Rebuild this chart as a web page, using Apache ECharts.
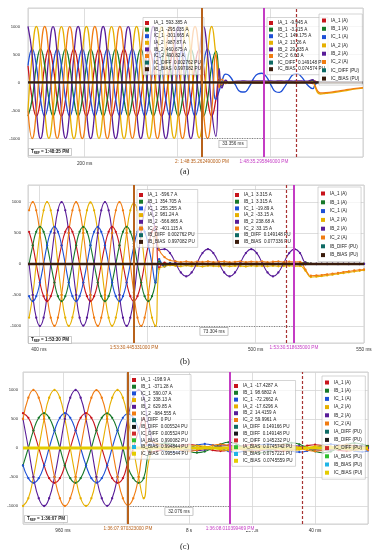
<!DOCTYPE html>
<html><head><meta charset="utf-8">
<script src="https://cdn.jsdelivr.net/npm/echarts@6/dist/echarts.min.js"></script>
<style>html,body{margin:0;padding:0;background:#fff}#c{width:373px;height:550px}</style>
</head><body><div id="c"></div><script>
// ---------------- DATA ----------------
// Panel (a): time (ms) and currents (A)
const tA = [139,143.5,148,152.5,157,161.5,166,170.5,175,179.5,184,188.5,193,197.5,202,206.5,211,215.5,220,224.5,229,233.5,238,242.5,247,251.5,256,260.5,265,269.5,274,278.5,283,287.5,292,296.5,301,305.5,310,314.5,319,323.5,328,332.5,337,341.5,
 345,348,352,356,362,368,372,378,382,387,391,396,401,406,410,415,420,425,429,434,440,446,448,451,454,460,470,480,490,500];
const IA1_a = [300,-300,-600,-300,300,598, 302,-298,-600,-300,300,600, 300,-300,-597,-302,300,600, 298,-300,-600,-300,302,600, 300,-302,-600,-298,300,597, 300,-300,-600,-300,298,600, 302,-300,-600,-300,300,593, 300,-300,-600,-300,
 60,-30,15,-10,-5,-8,-6,-10,-9,-10,-10,-8,-6,-8,-10,-7,-6,-8,-9,-6,-5,-20,30,5,0,-3,-2,-2,-3,-2];
const IB1_a = [-600,-300,300,600,300,-300, -598,-300,302,600,300,-300, -600,-302,300,597,300,-300, -600,-300,300,600,298,-302, -600,-300,300,600,300,-300, -597,-300,300,600,302,-300, -600,-300,300,600,300,-295, -600,-300,300,560,
 140,-60,25,-10,-3,-4,-2,-3,-4,-3,-3,-2,-4,-3,-3,-2,-3,-3,-2,-3,-3,40,-20,5,0,-2,-1,-2,-1,-2];
const IC1_a = [300,600,300,-300,-600,-300, 302,598,300,-300,-600,-298, 300,600,297,-300,-600,-300, 300,600,300,-302,-597,-300, 298,600,300,-300,-600,-300, 300,597,302,-300,-600,-300, 300,600,300,-300,-600,-302, 300,600,300,-300,
 -150,20,150,120,-30,-165,-170,-60,70,155,165,100,-50,-165,-175,-90,40,145,160,95,-40,-110,-50,-5,5,0,2,0,1,0];
const IA2_a = [-500,500,1000,500,-500,-995, -505,495,998,505,-500,-1000, -498,502,1000,500,-503,-998, -500,500,997,502,-500,-1000, -502,498,1000,500,-497,-1000, -500,503,998,500,-500,-996, -503,500,1000,497,-500,-988, -500,500,1000,500,
 120,-40,25,-15,10,-5,8,0,10,12,13,8,5,10,5,8,4,6,5,3,5,0,-60,-180,-205,-195,-175,-150,-120,-100];
const IB2_a = [1000,500,-500,-1000,-500,500, 998,502,-500,-997,-500,500, 1000,500,-503,-1000,-498,500, 1000,497,-500,-1000,-500,502, 996,500,-500,-1000,-502,500, 1000,500,-498,-1000,-500,497, 1000,500,-500,-1000,-500,461, 1000,500,-500,-960,
 250,-100,40,-10,20,25,30,22,28,30,30,25,28,24,30,26,28,25,29,27,25,50,10,5,2,3,2,2,1,2];
const IC2_a = [-500,-1000,-500,500,1000,500, -502,-998,-500,500,997,500, -500,-1000,-497,502,1000,500, -500,-1000,-500,500,1000,498, -503,-997,-500,500,1000,500, -500,-1000,-500,498,1000,502, -500,-1000,-500,500,1000,491, -500,-1000,-500,500,
 -90,60,-20,10,5,8,5,7,6,7,7,5,6,4,6,5,6,4,6,5,5,10,-40,-150,-185,-180,-160,-135,-110,-90];
const tPU_a = [139,341.5,345,500];
const ICDIFF_a = [0.002762,0.002762,0.149148,0.149148];
const ICBIAS_a = [0.997082,0.997082,0.074574,0.074574];

// Panel (b)
const tB = [395.5,397.2,398.8,400.5,402.2,403.8,405.5,407.2,408.8,410.5,412.2,413.8,415.5,417.2,418.8,420.5,422.2,423.8,425.5,427.2,428.8,430.5,432.2,433.8,435.5,437.2,438.8,440.5,442.2,443.8,445.5,447.2,448.8,450.5,452.2,453.8,
 455.5,458,460.5,463,465.5,468,470.5,473,475.5,478,480.5,483,485.5,488,490.5,493,495.5,498,500.5,503,505.5,508,510.5,513,515.5,518,520.5,523,525.5,528,530.5,533,535.5,538,540.5,543,545.5,548,550];
const IA1_b = [520,300,0,-300,-520,-600,-520,-300,0,300,520,600, 520,300,0,-300,-520,-598,-520,-300,0,300,520,600, 520,300,0,-300,-520,-597,-520,-300,0,300,520,600,
 -60,20,-10,5,-3,2,-4,3,-2,4,-3,2,-5,3,-2,4,-3,2,-4,3,-2,4,-3,3,-2,3,10,20,5,2,3,2,3,2,3,2,3,2,3];
const IB1_b = [0,300,520,600,520,300,0,-300,-520,-600,-520,-300, 0,300,520,597,520,300,0,-300,-520,-600,-520,-300, 0,300,520,600,520,330,0,-300,-520,-600,-520,-300,
 40,-30,10,-5,3,-2,4,-3,2,-4,3,-2,4,-3,2,-4,3,-2,4,-3,2,-4,3,-2,3,-2,8,25,5,2,1,2,1,2,1,2,1,2,1];
const IC1_b = [-520,-600,-520,-300,0,300,520,600,520,300,0,-300, -520,-600,-520,-300,0,300,520,598,520,300,0,-300, -520,-600,-520,-300,0,280,520,600,520,300,0,-300,
 80,-40,15,-5,3,-3,2,-4,3,-2,4,-3,2,-4,3,-2,4,-3,2,-4,3,-2,4,-3,2,-2,-15,-5,2,0,1,0,1,0,1,0,1,0,1];
const IA2_b = [-866,-500,0,500,866,1000,866,500,0,-500,-866,-1000, -862,-500,3,500,866,995,866,497,0,-500,-866,-998, -866,-502,0,500,866,981,866,500,0,-500,-866,-1000,
 -80,-40,-20,-30,-38,-25,-35,-30,-40,-28,-33,-36,-27,-38,-31,-34,-40,-29,-35,-32,-37,-30,-36,-33,-28,-35,-33,-110,-210,-205,-195,-185,-172,-160,-148,-135,-122,-110,-100];
const IB2_b = [0,-500,-866,-1000,-866,-500,0,500,866,1000,866,500, 0,-500,-866,-996,-866,-500,0,500,866,1000,866,500, 0,-500,-866,-1000,-866,-540,0,500,866,1000,866,500,
 230,240,176,20,-136,-200,-136,20,176,240,176,20,-136,-200,-136,20,176,240,176,20,-136,-200,-136,20,176,240,176,20,2,0,3,0,2,0,1,0,2,0,1];
const IC2_b = [866,1000,866,500,0,-500,-866,-1000,-866,-500,0,500, 866,998,866,500,0,-500,-866,-1000,-866,-500,0,500, 866,1000,866,500,0,-460,-866,-1000,-866,-500,0,500,
 230,110,60,45,30,40,28,38,32,42,30,36,40,28,35,42,30,38,33,40,29,36,41,30,37,33,35,-90,-190,-185,-178,-168,-155,-145,-130,-118,-105,-95,-88];
const tPU_b = [395,453.8,455.5,550];
const IBDIFF_b = [0.002762,0.002762,0.149148,0.149148];
const IBBIAS_b = [0.997082,0.997082,0.077336,0.077336];

// Panel (c)
const tC = [947.3,949.0,950.6,952.3,954.0,955.6,957.3,959.0,960.6,962.3,964.0,965.6,967.3,969.0,970.6,972.3,974.0,975.6,977.3,979.0,980.6,982.3,984.0,985.6,
 987.5,990,992.5,995,997.5,1000,1002.5,1005,1007.5,1010,1012.5,1015,1017.5,1020,1022.5,1025,1027.5,1030,1032.5,1035,1037.5,1040,1042.5,1045,1047.5,1050,1052.5,1055,1056.8];
const IA1_c = [600,520,300,0,-300,-520,-600,-520,-300,0,300,520, 600,520,300,0,-300,-520,-600,-520,-250,0,300,520,
 -80,-50,-35,2,40,58,42,0,-38,-52,-36,3,42,60,40,0,-40,-55,-38,2,40,56,38,-2,-38,-52,-35,0,35];
const IB1_c = [-300,0,300,520,600,520,300,0,-300,-520,-600,-520, -300,0,300,520,597,520,300,0,-330,-520,-600,-520,
 -40,50,85,60,5,-55,-80,-60,0,65,98,70,2,-60,-85,-62,0,60,90,64,3,-58,-82,-60,2,58,85,62,30];
const IC1_c = [-300,-520,-600,-520,-300,0,300,520,600,520,300,0, -300,-520,-598,-520,-300,0,300,520,590,520,300,0,
 60,5,-50,-72,-55,-3,48,70,50,2,-55,-74,-52,0,50,68,48,-2,-52,-70,-50,1,45,65,46,0,-50,-66,-45];
const IA2_c = [-1000,-866,-500,0,500,866,1000,866,500,0,-500,-866, -998,-866,-500,0,500,866,1000,866,500,0,-500,-866,
 -150,40,-35,-25,2,30,42,28,0,-30,-40,-26,2,28,38,26,-2,-28,-40,-28,0,30,40,26,0,-28,-38,-25,0];
const IB2_c = [500,0,-500,-866,-1000,-866,-500,0,500,866,1000,866, 500,0,-500,-866,-997,-866,-500,0,520,866,1000,866,
 300,30,42,30,0,-30,-44,-30,2,32,44,30,-2,-30,-42,-28,0,30,42,30,0,-28,-40,-28,0,28,40,28,0];
const IC2_c = [500,866,1000,866,500,0,-500,-866,-1000,-866,-500,0, 500,866,998,866,500,0,-500,-866,-985,-866,-500,0,
 120,70,45,5,-40,-55,-38,3,44,62,45,2,-40,-58,-40,0,40,58,42,3,-38,-55,-40,2,40,56,40,0,-35];
const tPU_c = [947.3,985.6,987.5,1056.8];
const IADIFF_c = [0,0,0.149166,0.149166];
const IBDIFF_c = [0.005524,0.005524,0.149148,0.149148];
const ICDIFF_c = [0.005524,0.005524,0.145232,0.145232];
const IABIAS_c = [0.990082,0.990082,0.0745742,0.0745742];
const IBBIAS_c = [0.994844,0.994844,0.0757221,0.0757221];
const ICBIAS_c = [0.995544,0.995544,0.0745559,0.0745559];

// Channel names
const namesA = ['IA_1 (A)','IB_1 (A)','IC_1 (A)','IA_2 (A)','IB_2 (A)','IC_2 (A)','IC_DIFF (PU)','IC_BIAS (PU)'];
const namesB = ['IA_1 (A)','IB_1 (A)','IC_1 (A)','IA_2 (A)','IB_2 (A)','IC_2 (A)','IB_DIFF (PU)','IB_BIAS (PU)'];
const namesC = ['IA_1 (A)','IB_1 (A)','IC_1 (A)','IA_2 (A)','IB_2 (A)','IC_2 (A)','IA_DIFF (PU)','IB_DIFF (PU)','IC_DIFF (PU)','IA_BIAS (PU)','IB_BIAS (PU)','IC_BIAS (PU)'];

// Cursor readouts
const readA1 = ['IA_1  593.385 A','IB_1  -295.035 A','IC_1  -301.665 A','IA_2  -987.87 A','IB_2  460.675 A','IC_2  490.82 A','IC_DIFF  0.002762 PU','IC_BIAS  0.997082 PU'];
const readA2 = ['IA_1  -9.945 A','IB_1  -3.315 A','IC_1  149.175 A','IA_2  13.26 A','IB_2  29.835 A','IC_2  6.63 A','IC_DIFF  0.149148 PU','IC_BIAS  0.074574 PU'];
const readB1 = ['IA_1  -596.7 A','IB_1  354.705 A','IC_1  255.255 A','IA_2  981.24 A','IB_2  -566.865 A','IC_2  -401.115 A','IB_DIFF  0.002762 PU','IB_BIAS  0.997082 PU'];
const readB2 = ['IA_1  3.315 A','IB_1  3.315 A','IC_1  -19.89 A','IA_2  -33.15 A','IB_2  238.68 A','IC_2  33.15 A','IB_DIFF  0.149148 PU','IB_BIAS  0.077336 PU'];
const readC1 = ['IA_1  -198.9 A','IB_1  -371.28 A','IC_1  590.07 A','IA_2  338.13 A','IB_2  629.85 A','IC_2  -984.555 A','IA_DIFF  0 PU','IB_DIFF  0.005524 PU','IC_DIFF  0.005524 PU','IA_BIAS  0.990082 PU','IB_BIAS  0.994844 PU','IC_BIAS  0.995544 PU'];
const readC2 = ['IA_1  -17.4287 A','IB_1  98.6802 A','IC_1  -72.2662 A','IA_2  -17.6296 A','IB_2  14.4159 A','IC_2  59.9961 A','IA_DIFF  0.149166 PU','IB_DIFF  0.149148 PU','IC_DIFF  0.145232 PU','IA_BIAS  0.0745742 PU','IB_BIAS  0.0757221 PU','IC_BIAS  0.0745559 PU'];

// Cursors (ms) and their labels
const cursA = {brown:326.5, magenta:393.3, dashed:427.8, bl:'2: 1:48:35.262490000 PM', ml:'1:48:35.295846000 PM', meas:'33.356 ms'};
const cursB = {brown:443.9, magenta:517.7, dashed:514, bl:'1:53:30.445331000 PM', ml:'1:53:30.518635000 PM', meas:'73.304 ms'};
const cursC = {brown:980.6, magenta:1013, dashed:1035.9, bl:'1:36:07.970323000 PM', ml:'1:36:08.010399469 PM', meas:'32.076 ms'};

// Tick labels
const xTickA = [200], xTextA = ['200 ms'];
const xTickB = [400,500,550], xTextB = ['400 ms','500 ms','550 ms'];
const xTickC = [960,1000,1020,1040], xTextC = ['960 ms','8 s','20 ms','40 ms'];
const yTick = [-1000,-500,0,500,1000], yText = ['-1000','-500','0','500','1000'];
const trefA = '1:48:35 PM', trefB = '1:53:30 PM', trefC = '1:36:07 PM';

// ---------------- CHART ----------------
const FONT = "'Liberation Sans', Arial, sans-serif";
const WCOL = {'IA_1 (A)':'#c8141c','IB_1 (A)':'#17792a','IC_1 (A)':'#1d4fd6','IA_2 (A)':'#e6b000','IB_2 (A)':'#581c98','IC_2 (A)':'#f07c12'};
const BROWN = '#b8621b', MAG = '#c43cc4', DRED = '#a83232';

const series = [];
function markers(c){
  const lab = (txt,col)=>({show:true, position:'start', formatter:txt, color:col, fontSize:4.7, fontFamily:FONT, distance:2, backgroundColor:'#fff', padding:[0,1]});
  return {silent:true, symbol:['none','none'], animation:false,
    data:[
      {xAxis:c.brown, lineStyle:{color:BROWN,width:2,type:'solid',opacity:1}, label:lab(c.bl,BROWN)},
      {xAxis:c.magenta, lineStyle:{color:MAG,width:2,type:'solid',opacity:1}, label:lab(c.ml,MAG)},
      {xAxis:c.dashed, lineStyle:{color:DRED,width:1.2,type:[3,2],opacity:1}, label:{show:false}},
      [{coord:[c.brown,-1000], lineStyle:{color:'#555',width:0.7,type:[1,1.5],opacity:1},
        label:{show:true, position:'insideMiddleBottom', formatter:c.meas, color:'#333', fontSize:4.6, fontFamily:FONT,
          backgroundColor:'#fff', borderColor:'#999', borderWidth:0.6, padding:[1,3], distance:2}},
       {coord:[c.magenta,-1000]}]
    ]};
}
function addPanel(p, gi, t, waves, tp, pu, pucol, dots, curs){
  const wn = ['IA_1 (A)','IB_1 (A)','IC_1 (A)','IA_2 (A)','IB_2 (A)','IC_2 (A)'];
  wn.forEach((n,k)=>{
    series.push({type:'line', name:n+'|'+p, xAxisIndex:gi, yAxisIndex:gi,
      data:t.map((x,i)=>[x,waves[k][i]]), smooth:0.5,
      symbol: dots?'circle':'none', symbolSize:2.3, showSymbol:!!dots,
      lineStyle:{color:WCOL[n], width: dots?1.1:1.3}, itemStyle:{color:WCOL[n]},
      animation:false, silent:true, z:2});
  });
  const pn = Object.keys(pu);
  pn.forEach((n,k)=>{
    const s = {type:'line', name:n+'|'+p, xAxisIndex:gi, yAxisIndex:gi,
      data:tp.map((x,i)=>[x,pu[n][i]]), symbol:'none', showSymbol:false,
      lineStyle:{color:pucol[n], width: pucol.w[k]}, itemStyle:{color:pucol[n]},
      animation:false, silent:true, z:3, clip:false};
    if (k===pn.length-1) s.markLine = markers(curs);
    series.push(s);
  });
}
addPanel('a',0,tA,[IA1_a,IB1_a,IC1_a,IA2_a,IB2_a,IC2_a],tPU_a,
  {'IC_DIFF (PU)':ICDIFF_a,'IC_BIAS (PU)':ICBIAS_a},
  {'IC_DIFF (PU)':'#0e6a64','IC_BIAS (PU)':'#3a1c0c', w:[1.5,2.2]}, false, cursA);
addPanel('b',1,tB,[IA1_b,IB1_b,IC1_b,IA2_b,IB2_b,IC2_b],tPU_b,
  {'IB_DIFF (PU)':IBDIFF_b,'IB_BIAS (PU)':IBBIAS_b},
  {'IB_DIFF (PU)':'#0e6a64','IB_BIAS (PU)':'#3a1c0c', w:[1.5,2.4]}, true, cursB);
addPanel('c',2,tC,[IA1_c,IB1_c,IC1_c,IA2_c,IB2_c,IC2_c],tPU_c,
  {'IA_DIFF (PU)':IADIFF_c,'IB_DIFF (PU)':IBDIFF_c,'IC_DIFF (PU)':ICDIFF_c,'IA_BIAS (PU)':IABIAS_c,'IB_BIAS (PU)':IBBIAS_c,'IC_BIAS (PU)':ICBIAS_c},
  {'IA_DIFF (PU)':'#0e6a64','IB_DIFF (PU)':'#1a1a1a','IC_DIFF (PU)':'#d02828','IA_BIAS (PU)':'#2fbf2f','IB_BIAS (PU)':'#1fb4e6','IC_BIAS (PU)':'#e4cc00', w:[1.2,1.2,1.2,1.5,1.5,3]}, true, cursC);

function fmt(vals, texts){ return v => { for (let k=0;k<vals.length;k++) if (Math.abs(v-vals[k])<1e-6) return texts[k]; return ''; }; }
function xAx(gi,min,max,split,vals,texts){
  return {type:'value', gridIndex:gi, min, max, splitNumber:split, axisLine:{show:false}, axisTick:{show:false},
    splitLine:{show:true, lineStyle:{color:'#d6d6d6', width:0.8}},
    axisLabel:{fontSize:4.7, color:'#333', fontFamily:FONT, margin:4, formatter:fmt(vals,texts)}};
}
function yAx(gi,lim,margin){
  return {type:'value', gridIndex:gi, min:-lim, max:lim, splitNumber:5, axisLine:{show:false}, axisTick:{show:false},
    splitLine:{show:true, lineStyle:{color:'#d6d6d6', width:0.8}},
    axisLabel:{fontSize:4.2, color:'#333', fontFamily:FONT, margin, formatter:fmt(yTick,yText)}};
}
function leg(p, names, reads, left, top, pitch, pad){
  return {orient:'vertical', left, top, data:names.map(n=>n+'|'+p), icon:'rect', itemWidth:4, itemHeight:4,
    itemGap:pitch-5, selectedMode:false, backgroundColor:'rgba(255,255,255,0.72)', borderColor:'#b8b8b8', borderWidth:0.6,
    padding:pad||[3,3,3,2], textStyle:{fontSize:4.6, lineHeight:5, color:'#222', fontFamily:FONT},
    formatter: reads ? (n=>reads[names.indexOf(n.split('|')[0])]) : (n=>n.split('|')[0])};
}
function tref(txt,left,top){
  return {text:'{t|T}{s|REF}{t| = '+txt+'}', left, top, backgroundColor:'#fff', borderColor:'#aaa', borderWidth:0.6, padding:[1,3],
    textStyle:{rich:{t:{fontSize:4.6, color:'#222', fontFamily:FONT}, s:{fontSize:3, color:'#222', fontFamily:FONT, padding:[3,0,0,0]}}}};
}
function cap(txt,left,top){ return {text:txt, left, top, padding:0, textStyle:{fontSize:8.5, fontWeight:'normal', color:'#222', fontFamily:"'Liberation Serif', serif"}}; }

const option = {
  animation:false, backgroundColor:'#fff',
  grid:[
    {left:28, top:8, width:335, height:149, show:true, borderColor:'#c4c4c4', borderWidth:0.8, backgroundColor:'#fff', outerBoundsMode:'none'},
    {left:28, top:185, width:336, height:158, show:true, borderColor:'#c4c4c4', borderWidth:0.8, backgroundColor:'#fff', outerBoundsMode:'none'},
    {left:23, top:372, width:345, height:152, show:true, borderColor:'#c4c4c4', borderWidth:0.8, backgroundColor:'#fff', outerBoundsMode:'none'}
  ],
  xAxis:[ xAx(0,139,500,4,xTickA,xTextA), xAx(1,395,550,3,xTickB,xTextB), xAx(2,947.3,1056.8,5,xTickC,xTextC) ],
  yAxis:[ yAx(0,1330,8), yAx(1,1275,7), yAx(2,1310,5) ],
  legend:[
    leg('a',namesA,readA1,143,17.5,6.6), leg('a',namesA,readA2,267,17.5,6.6), leg('a',namesA,null,319,14,8.3,[4,3,4,3]),
    leg('b',namesB,readB1,137,189.5,6.7), leg('b',namesB,readB2,233,189.5,6.7), leg('b',namesB,null,318,187,8.8,[4,3,4,3]),
    leg('c',namesC,readC1,130,374.5,6.7), leg('c',namesC,readC2,232,380.5,6.8), leg('c',namesC,null,322,376,8.2,[4,3,4,3])
  ],
  title:[ tref(trefA,28,148), tref(trefB,28,336), tref(trefC,24,515), cap('(a)',180,167), cap('(b)',180,357), cap('(c)',180,542) ],
  series
};
const chart = echarts.init(document.getElementById('c'), null, {renderer:'canvas'});
chart.setOption(option);
</script></body></html>
